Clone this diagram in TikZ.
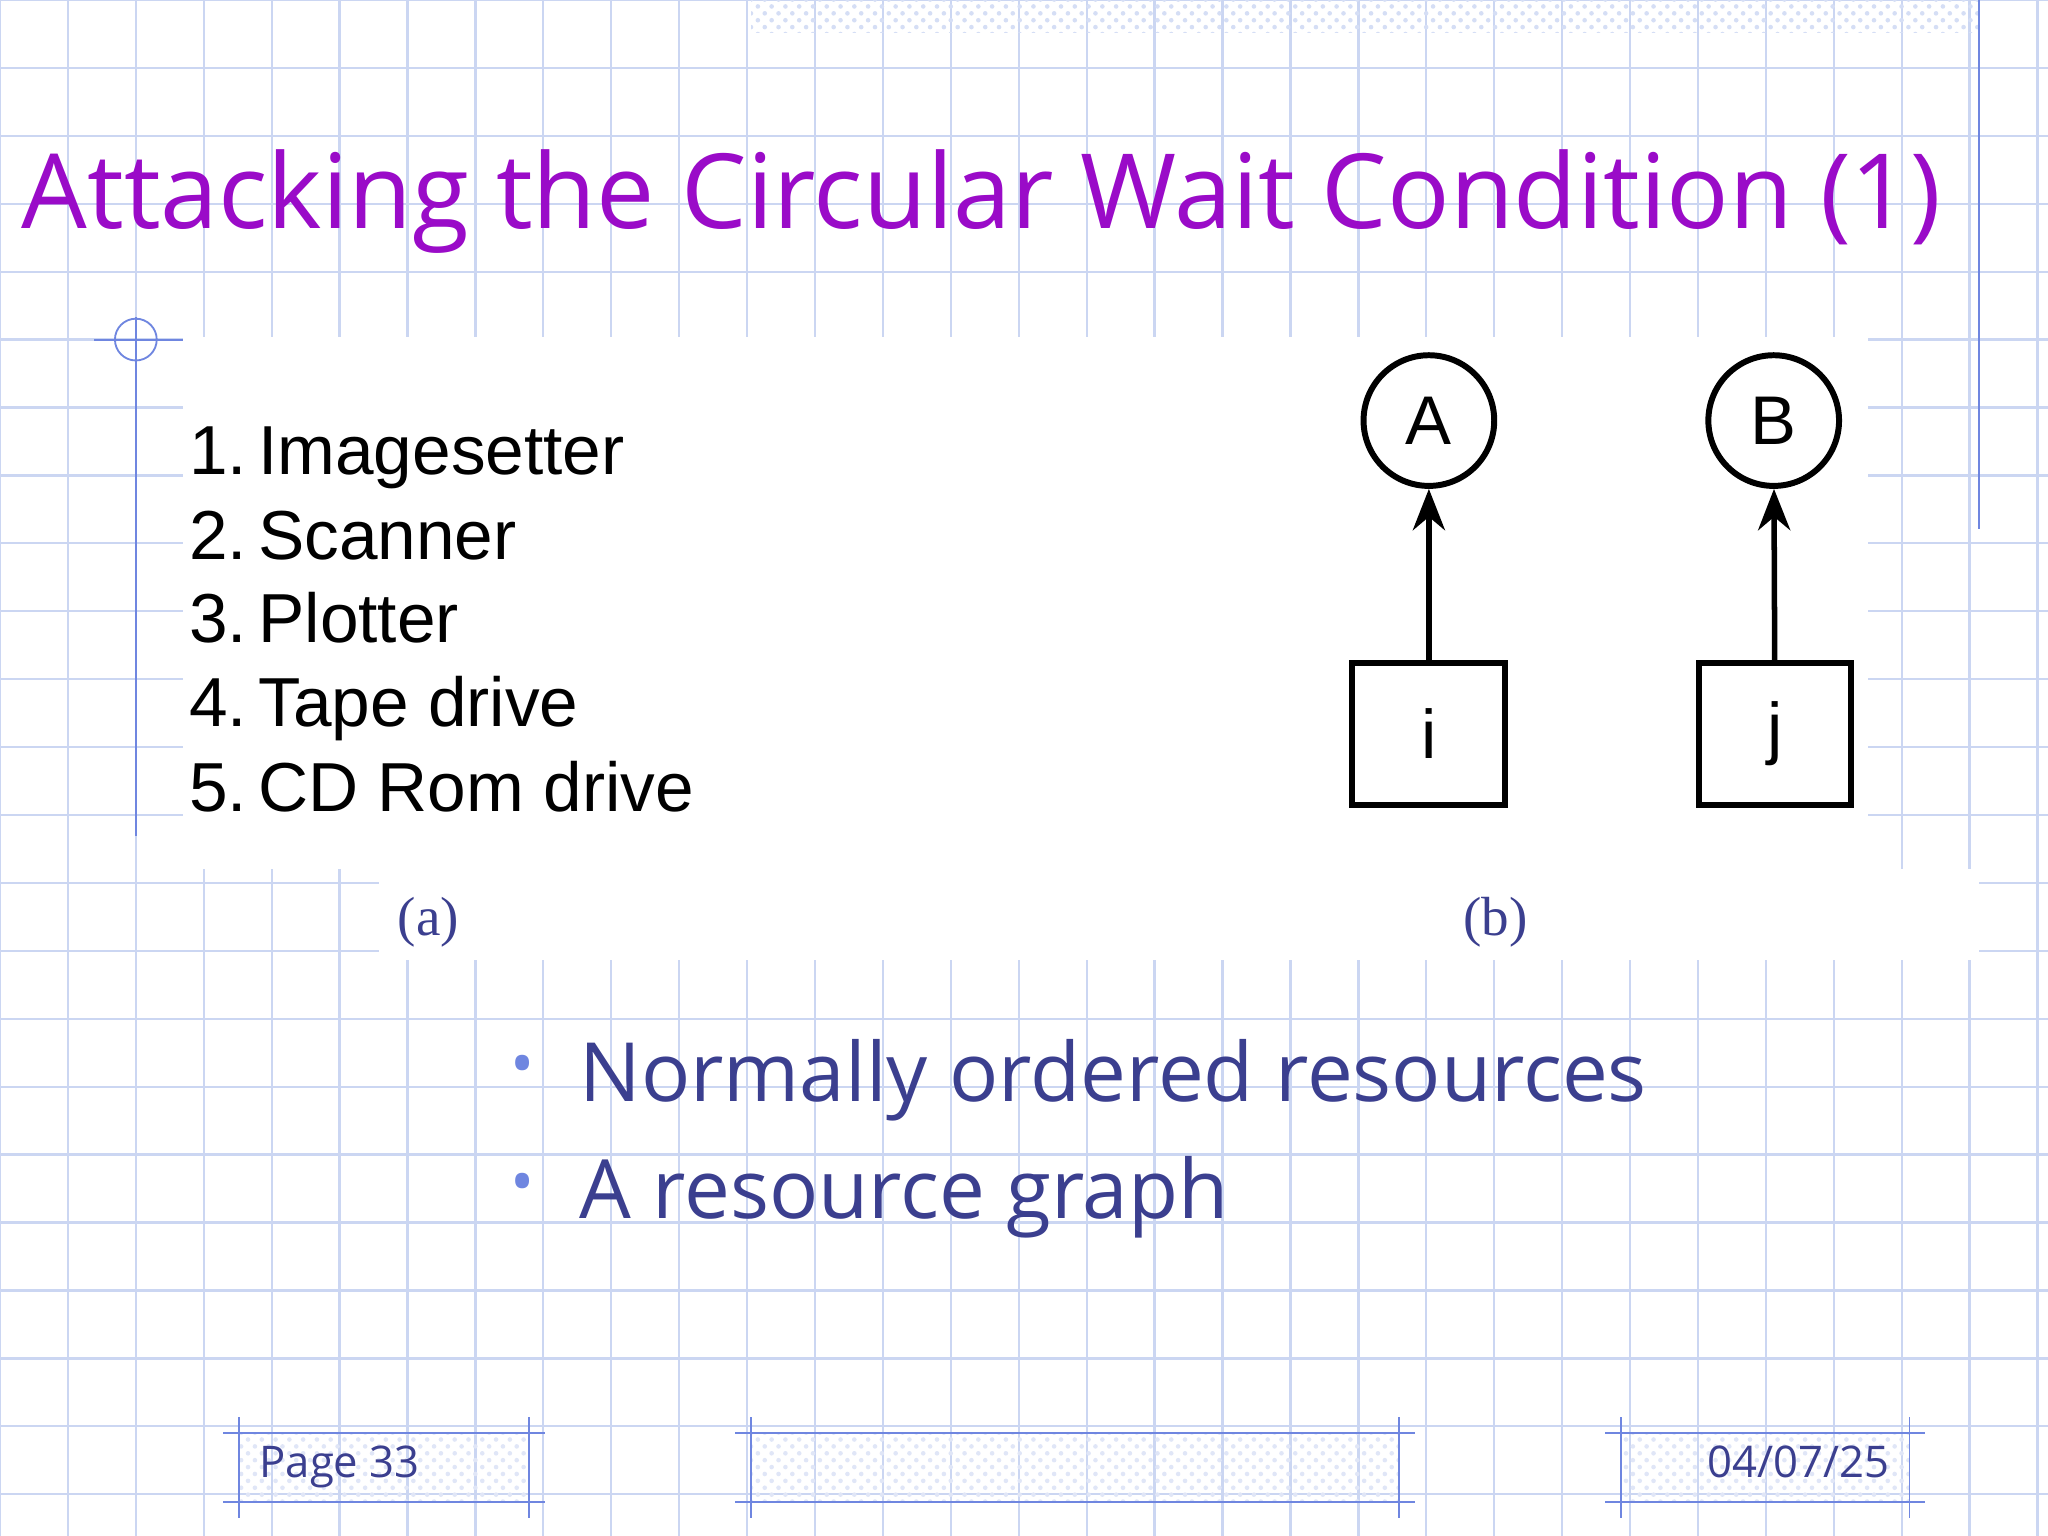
\documentclass[tikz,border=0pt]{standalone}
\usepackage{fontspec}
\setmainfont{Open Sans}
\newfontfamily\helv{Liberation Sans}
\newfontfamily\serf{Liberation Serif}
\usetikzlibrary{arrows.meta,patterns}
\definecolor{gridc}{HTML}{CBD6F2}
\definecolor{titlec}{HTML}{9A0BC8}
\definecolor{bodyc}{HTML}{3B3F8F}
\definecolor{linec}{HTML}{6F86E0}
\tikzset{
  res/.style={draw,line width=1.3pt,circle,minimum size=1.0cm,inner sep=0pt,font=\helv\fontsize{15}{15}\selectfont},
  proc/.style={draw,line width=1.3pt,minimum width=1.17cm,minimum height=1.08cm,inner sep=0pt,font=\helv\fontsize{15}{15}\selectfont},
  req/.style={line width=1.2pt,-{Stealth[length=9pt,width=7pt]}},
  foot/.style={draw=linec,pattern=crosshatch dots,pattern color=gridc!60},
  item/.style={anchor=base west,font=\helv\fontsize{15.1}{15.1}\selectfont,inner sep=0pt},
}
\begin{document}
\begin{tikzpicture}[x=0.01cm,y=-0.01cm]
\useasboundingbox (0,0) rectangle (1568,1176);
\fill[white] (0,0) rectangle (1568,1176);
\foreach \x in {0,52,...,1568} \draw[gridc,line width=0.5pt] (\x+0,0) -- (\x+0,1176);
\foreach \y in {0,52,...,1176} \draw[gridc,line width=0.5pt] (0,\y+0) -- (1568,\y+0);
% white picture panel
\fill[white] (140,258) rectangle (1430,665);
\fill[white] (290,665) rectangle (1515,735);
% top band
\fill[pattern=crosshatch dots,pattern color=gridc!80] (575,0) rectangle (1515,25);
\draw[linec] (1515,0) -- (1515,405);
% crosshair
\draw[linec] (72,260) -- (140,260);
\draw[linec] (104,243) -- (104,640);
\draw[linec] (104,260) circle (16);
% title
\node[anchor=base west,text=titlec,font=\fontsize{22.6}{22.6}\selectfont,inner sep=0pt] (title) at (16,175) {Attacking the Circular Wait Condition (1)};
% list
\node[item] (l1) at (144,363) {1.\,Imagesetter};
\node[item] (l2) at (144,428) {2.\,Scanner};
\node[item] (l3) at (144,492) {3.\,Plotter};
\node[item] (l4) at (144,556) {4.\,Tape drive};
\node[item] (l5) at (144,621) {5.\,CD Rom drive};
% graph
\node[res] (A) at (1094,322) {A};
\node[res] (B) at (1358,322) {B};
\node[proc] (i) at (1094,562) {i};
\node[proc] (j) at (1359,562) {j};
\draw[req] (i) -- (A);
\draw[req] (j) -- (B);
% captions
\node[text=bodyc,font=\serf\fontsize{12}{12}\selectfont] (ca) at (328,706) {(a)};
\node[text=bodyc,font=\serf\fontsize{12}{12}\selectfont] (cb) at (1145,706) {(b)};
% bullets
\node[text=linec,font=\fontsize{14}{14}\selectfont] (b1) at (400,820) {•};
\node[text=linec,font=\fontsize{14}{14}\selectfont] (b2) at (400,910) {•};
\node[anchor=base west,text=bodyc,font=\fontsize{17.8}{17.8}\selectfont,inner sep=0pt] (t1) at (443,843) {Normally ordered resources};
\node[anchor=base west,text=bodyc,font=\fontsize{17.8}{17.8}\selectfont,inner sep=0pt] (t2) at (443,933) {A resource graph};
% footer
\fill[foot] (183,1097) rectangle (405,1150);
\fill[foot] (575,1097) rectangle (1071,1150);
\fill[foot] (1241,1097) rectangle (1462,1150);
\foreach \a/\b in {183/405,575/1071,1241/1462}{
  \draw[linec] (\a-12,1097) -- (\b+12,1097);
  \draw[linec] (\a-12,1150) -- (\b+12,1150);
  \draw[linec] (\a+0,1085) -- (\a+0,1162);
  \draw[linec] (\b+0,1085) -- (\b+0,1162);
}
\node[anchor=base west,text=bodyc,font=\fontsize{9.5}{9.5}\selectfont,inner sep=0pt] (pg) at (198,1131) {Page 33};
\node[anchor=base east,text=bodyc,font=\fontsize{9.5}{9.5}\selectfont,inner sep=0pt] (dt) at (1447,1131) {04/07/25};
\end{tikzpicture}
\end{document}
